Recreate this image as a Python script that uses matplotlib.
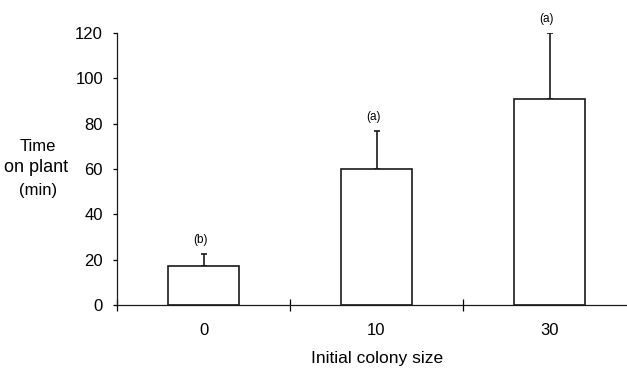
import matplotlib
matplotlib.use('Agg')
import matplotlib.pyplot as plt
import numpy as np

plt.rcParams['font.family'] = ['Liberation Sans', 'DejaVu Sans']

# data
colony_sizes = ['0', '10', '30']
time_on_plant = [17.3, 60.0, 90.7]
se_upper = [5.2, 16.7, 29.1]
letters = ['(b)', '(a)', '(a)']

W, H = 627, 368
fig = plt.figure(figsize=(W / 100, H / 100), dpi=100)
# axes runs a little past the right edge, as in the original scan
ax = fig.add_axes([117 / W, 1 - 305 / H, 519 / W, 272 / H])

x = np.arange(len(colony_sizes))
ax.bar(x, time_on_plant, width=0.405, color='white', edgecolor='#1a1a1a', linewidth=1.2, zorder=2)
ax.errorbar(x, time_on_plant, yerr=[np.zeros(len(x)), se_upper], fmt='none',
            ecolor='#1a1a1a', elinewidth=1.2, capsize=2.5, capthick=1.2, zorder=1)

for xi, v, e, lab in zip(x, time_on_plant, se_upper, letters):
    ax.annotate(lab, (xi, v + e), xytext=(-2, 6), textcoords='offset points',
                ha='center', va='bottom', fontsize=8.5, annotation_clip=False)

ax.set_xlim(-0.5, 2.5)
ax.set_ylim(0, 120)
ax.set_yticks(range(0, 121, 20))
ax.tick_params(axis='y', direction='out', length=3, width=0.9, pad=7, labelsize=12)

# category boundaries carry the ticks, labels sit under the bars
ax.set_xticks([-0.5, 0.5, 1.5])
ax.set_xticklabels([])
ax.tick_params(axis='x', which='major', direction='inout', length=9, width=0.9)
ax.set_xticks(x, minor=True)
ax.set_xticklabels(colony_sizes, minor=True)
ax.tick_params(axis='x', which='minor', length=0, pad=13, labelsize=12)

for s in ['top', 'right']:
    ax.spines[s].set_visible(False)
for s in ['left', 'bottom']:
    ax.spines[s].set_linewidth(0.9)
    ax.spines[s].set_color('#1a1a1a')

# y label, drawn line by line so the middle line clips at the left edge like the scan
fig.text(38 / W, 1 - 147 / H, 'Time', ha='center', va='center', fontsize=12)
fig.text(68 / W, 1 - 168 / H, 'on plant', ha='right', va='center', fontsize=13)
fig.text(38 / W, 1 - 191 / H, '(min)', ha='center', va='center', fontsize=12)

fig.text(377 / W, 1 - 359 / H, 'Initial colony size', ha='center', va='center', fontsize=12.5)

fig.savefig('out.png', dpi=100)
